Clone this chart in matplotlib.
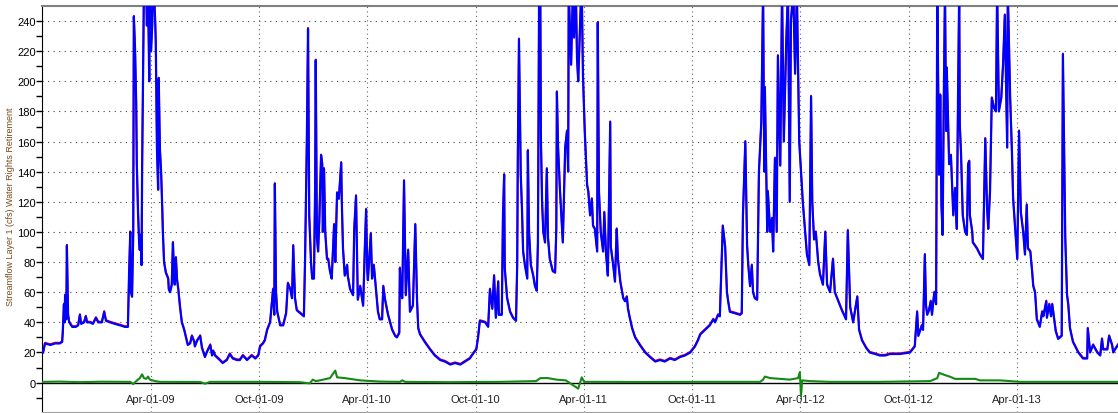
import numpy as np
import pandas as pd
import matplotlib
matplotlib.use("Agg")
import matplotlib.pyplot as plt
import matplotlib.dates as mdates
import matplotlib.transforms as mtransforms

plt.rcParams['font.family'] = ['Liberation Sans', 'DejaVu Sans']

# days counted from 2008-09-29
start = pd.Timestamp("2008-09-29")

flow_days = [2, 5, 14, 22, 30, 34, 35, 37, 38, 39, 41, 42, 44, 46, 51, 57, 61, 64, 66, 71,
             74, 76, 81, 86, 91, 95, 101, 105, 108, 115, 123, 132, 140, 145, 147, 149, 150, 152, 154, 155,
             157, 159, 160, 162, 164, 165, 167, 168, 169, 170, 172, 176, 177, 179, 181, 182, 184, 186, 187, 189,
             191, 192, 194, 196, 197, 199, 201, 203, 204, 206, 209, 213, 214, 216, 218, 219, 221, 223, 224, 226,
             228, 230, 233, 236, 240, 243, 246, 250, 253, 257, 258, 262, 267, 270, 275, 278, 284, 287, 289, 292,
             300, 305, 312, 317, 322, 329, 334, 339, 346, 354, 360, 365, 368, 373, 376, 380, 385, 390, 392, 393,
             395, 397, 402, 407, 412, 415, 419, 422, 424, 427, 430, 439, 442, 444, 447, 449, 451, 454, 456, 459,
             461, 462, 464, 466, 468, 471, 473, 474, 476, 478, 481, 483, 486, 489, 493, 495, 498, 501, 505, 506,
             508, 511, 515, 516, 520, 525, 527, 530, 532, 533, 537, 540, 542, 545, 547, 549, 550, 555, 557, 560,
             564, 567, 570, 574, 576, 579, 584, 591, 596, 599, 603, 604, 606, 608, 611, 613, 614, 618, 621, 626,
             630, 633, 635, 638, 646, 655, 663, 672, 680, 689, 697, 706, 714, 722, 729, 733, 736, 739, 748, 753,
             756, 760, 763, 766, 770, 771, 776, 778, 780, 781, 785, 790, 795, 800, 802, 803, 805, 808, 810, 812,
             815, 819, 820, 822, 825, 829, 832, 835, 837, 839, 841, 842, 844, 846, 849, 852, 854, 857, 862, 866,
             868, 869, 871, 874, 878, 879, 883, 886, 888, 889, 893, 896, 898, 901, 903, 905, 908, 910, 911, 913,
             916, 920, 922, 925, 928, 930, 933, 937, 938, 940, 943, 947, 949, 952, 955, 959, 960, 964, 967, 970,
             972, 976, 981, 984, 987, 989, 992, 996, 1001, 1009, 1018, 1026, 1035, 1043, 1051, 1060, 1068, 1077, 1085, 1094,
             1102, 1107, 1111, 1119, 1127, 1133, 1136, 1141, 1144, 1149, 1153, 1156, 1158, 1161, 1170, 1178, 1181, 1183, 1187, 1190,
             1192, 1195, 1198, 1200, 1203, 1207, 1210, 1214, 1217, 1219, 1220, 1224, 1225, 1229, 1232, 1234, 1237, 1240, 1242, 1246,
             1249, 1252, 1256, 1259, 1262, 1264, 1268, 1271, 1274, 1278, 1281, 1284, 1288, 1291, 1295, 1298, 1300, 1303, 1306, 1310,
             1313, 1318, 1322, 1325, 1330, 1335, 1338, 1343, 1350, 1357, 1360, 1364, 1369, 1376, 1379, 1384, 1391, 1397, 1406, 1414,
             1423, 1431, 1440, 1448, 1465, 1473, 1477, 1479, 1485, 1487, 1490, 1492, 1494, 1497, 1500, 1502, 1506, 1509, 1510, 1511,
             1514, 1516, 1518, 1520, 1522, 1524, 1526, 1527, 1531, 1534, 1536, 1538, 1541, 1544, 1546, 1548, 1549, 1551, 1553, 1554,
             1558, 1561, 1563, 1565, 1566, 1570, 1571, 1578, 1583, 1588, 1592, 1595, 1597, 1600, 1603, 1607, 1610, 1612, 1615, 1619,
             1622, 1625, 1629, 1630, 1634, 1637, 1639, 1642, 1646, 1647, 1649, 1652, 1656, 1659, 1662, 1664, 1668, 1671, 1673, 1676,
             1679, 1684, 1688, 1690, 1695, 1696, 1700, 1703, 1705, 1708, 1711, 1715, 1721, 1723, 1727, 1730, 1732, 1735, 1740, 1749,
             1757, 1764, 1765, 1769, 1774, 1781, 1786, 1789, 1791, 1798, 1801, 1806, 1808, 1811, 1816]

flow_cfs = [20, 26, 25, 26, 26, 27, 33, 52, 40, 58, 42, 91, 45, 40, 37, 37, 38, 45, 39, 40,
            44, 40, 40, 39, 43, 40, 40, 47, 41, 40, 39, 38, 37, 37, 73, 100, 60, 57, 100, 243,
            222, 185, 145, 114, 92, 88, 98, 78, 143, 184, 260, 260, 237, 260, 200, 260, 220, 237, 260, 260,
            240, 226, 156, 128, 202, 155, 140, 115, 100, 80, 73, 69, 62, 60, 63, 65, 93, 70, 65, 83,
            68, 62, 50, 40, 35, 30, 25, 26, 31, 27, 24, 28, 31, 23, 17, 20, 25, 18, 21, 18,
            15, 13, 15, 19, 16, 15, 15, 18, 15, 18, 16, 18, 24, 26, 28, 35, 40, 62, 45, 132,
            60, 47, 38, 38, 46, 66, 62, 56, 91, 56, 48, 45, 44, 82, 161, 235, 111, 80, 69, 69,
            130, 214, 96, 87, 107, 151, 145, 100, 142, 100, 82, 82, 74, 69, 105, 80, 126, 122, 146, 120,
            89, 71, 78, 71, 62, 58, 102, 124, 78, 55, 64, 56, 51, 91, 115, 74, 68, 99, 69, 78,
            60, 47, 42, 42, 64, 55, 45, 35, 31, 30, 33, 76, 60, 56, 134, 80, 58, 88, 47, 51,
            105, 54, 36, 32, 27, 22, 18, 15, 14, 12, 13, 12, 14, 16, 20, 22, 30, 41, 40, 37,
            62, 49, 71, 43, 67, 45, 45, 111, 138, 76, 56, 47, 43, 41, 78, 147, 228, 138, 116, 87,
            78, 69, 154, 100, 78, 71, 64, 61, 93, 260, 260, 162, 120, 100, 93, 142, 96, 82, 74, 73,
            102, 193, 156, 129, 100, 93, 156, 167, 140, 260, 211, 260, 229, 260, 215, 200, 235, 260, 260, 204,
            167, 131, 127, 111, 122, 104, 102, 87, 239, 127, 100, 87, 113, 85, 71, 173, 90, 78, 67, 102,
            82, 67, 56, 54, 57, 49, 43, 36, 30, 25, 20, 17, 14, 15, 14, 16, 15, 17, 18, 20,
            24, 28, 32, 35, 38, 42, 40, 45, 44, 104, 90, 60, 54, 47, 46, 45, 46, 111, 160, 91,
            78, 64, 78, 60, 56, 55, 140, 173, 260, 140, 196, 100, 127, 100, 109, 87, 149, 100, 217, 144,
            260, 160, 225, 260, 120, 240, 260, 205, 260, 160, 140, 120, 100, 85, 78, 190, 120, 95, 100, 80,
            72, 65, 100, 65, 60, 82, 60, 55, 48, 42, 101, 50, 40, 57, 35, 28, 23, 20, 19, 18,
            18, 19, 19, 19, 20, 24, 47, 31, 38, 35, 85, 51, 45, 48, 54, 45, 60, 52, 147, 260,
            138, 191, 118, 98, 189, 260, 167, 209, 145, 151, 131, 111, 129, 102, 189, 260, 171, 153, 125, 111,
            100, 98, 145, 147, 111, 100, 93, 89, 85, 82, 162, 116, 102, 127, 189, 182, 180, 260, 180, 189,
            211, 244, 156, 260, 189, 153, 122, 105, 82, 109, 167, 113, 100, 85, 118, 89, 87, 74, 64, 60,
            42, 37, 47, 44, 54, 43, 52, 44, 52, 43, 34, 29, 31, 218, 96, 58, 52, 36, 27, 20,
            16, 16, 36, 20, 25, 20, 18, 29, 22, 22, 31, 25, 20, 22, 25]

change_days = [0, 30, 64, 98, 149, 154, 159, 162, 165, 169, 172, 176, 179, 182, 191, 199, 267, 275, 284, 368,
               435, 452, 457, 462, 469, 486, 495, 498, 511, 537, 570, 604, 608, 613, 689, 773, 834, 841, 854, 868,
               884, 905, 911, 915, 942, 1009, 1111, 1212, 1217, 1220, 1229, 1246, 1262, 1276, 1279, 1281, 1283, 1296, 1330, 1414,
               1499, 1511, 1514, 1524, 1532, 1541, 1575, 1583, 1617, 1634, 1651, 1718, 1816]
change_cfs = [0.5, 0.7, 0.3, 0.6, 0.5, -1, 1, 2, 3, 5.5, 3, 2.5, 4, 2, 1, 0.5, 0.4, -0.7, 0.5, 0.5,
              0.3, -0.5, 2, 1, 1.5, 3, 8, 3.5, 3, 1.5, 0.7, 0.5, 1.5, 0.5, 0.3, 0.5, 1, 3, 3, 2,
              1.5, -4, 3.5, 0.5, 0.5, 0.4, 0.5, 0.5, 2, 4, 3, 2.5, 2, 3, 7, -9, 1.5, 1, 0.5, 0.5,
              1, 3, 6.5, 5, 4, 2.5, 2.5, 1.5, 1.5, 1, 0.5, 0.5, 0.5]

tick_dates = ["2009-04-01", "2009-10-01", "2010-04-01", "2010-10-01", "2011-04-01",
              "2011-10-01", "2012-04-01", "2012-10-01", "2013-04-01"]

flow_x = start + pd.to_timedelta(flow_days, unit="D")
change_x = start + pd.to_timedelta(change_days, unit="D")

fig = plt.figure(figsize=(11.18, 4.14), dpi=100)
ax = fig.add_axes([42 / 1118, 1 / 414, 1 - 42 / 1118, 406 / 414])

# red series peeks out just above the blue one at the peaks
red_tr = mtransforms.offset_copy(ax.transData, fig=fig, x=0, y=0.8, units='dots')
ax.plot(flow_x, flow_cfs, color='red', lw=1.3, transform=red_tr, zorder=3)
ax.plot(flow_x, flow_cfs, color='#0000ff', lw=1.6, zorder=4)
ax.axhline(0, color='black', lw=1, zorder=2)
ax.plot(change_x, change_cfs, color='#138a13', lw=1.5, zorder=5)

ax.set_xlim(start, start + pd.Timedelta(days=1816))
ax.set_ylim(-19.5, 250)

ax.set_xticks(pd.to_datetime(tick_dates))
ax.xaxis.set_major_formatter(mdates.DateFormatter('%b-%d-%y'))
ax.tick_params(axis='x', length=0, pad=-13, labelsize=8, colors='#222222')

ax.set_yticks(np.arange(0, 241, 20))
ax.set_yticks(np.arange(-10, 250, 10), minor=True)
ax.tick_params(axis='y', which='major', length=4, width=1, labelsize=8, direction='out', pad=0.5)
ax.tick_params(axis='y', which='minor', length=4, width=1, direction='out')

for yv in range(20, 241, 20):
    ax.axhline(yv, color='#444444', lw=0.8, linestyle=(0, (1, 4)), zorder=1)
for d in tick_dates:
    ax.axvline(pd.Timestamp(d), color='#666666', lw=0.8, linestyle=(0, (1, 3)), zorder=1)

ax.spines['right'].set_visible(False)
ax.spines['top'].set_color('#808080')
ax.spines['top'].set_linewidth(1.5)
ax.spines['bottom'].set_color('#a0a0a0')
ax.spines['left'].set_color('black')

fig.text(11 / 1118, 0.5, 'Streamflow Layer 1 (cfs) Water Rights Retirement', rotation=90,
         ha='center', va='center', fontsize=6.5, color='#7a4a1a')

fig.savefig('out.png', dpi=100)
